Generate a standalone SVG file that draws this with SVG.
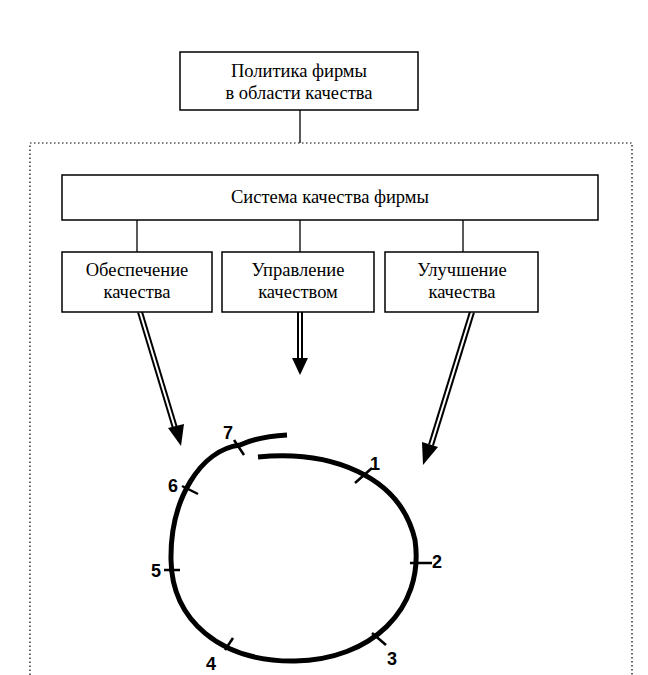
<svg xmlns="http://www.w3.org/2000/svg" width="648" height="675" viewBox="0 0 648 675">
<style>
.b{fill:#fff;stroke:#000;stroke-width:1.5}
.t{font-family:"Liberation Serif",serif;font-size:18.5px;text-anchor:middle}
.n{font-family:"Liberation Sans",sans-serif;font-size:18px;font-weight:bold}
.c{stroke:#000;stroke-width:1.3;fill:none}
.ao{stroke:#000;stroke-width:6;fill:none}
.ai{stroke:#fff;stroke-width:2;fill:none}
</style>
<rect width="648" height="675" fill="#fff"/>
<rect x="30" y="143" width="602" height="540" fill="none" stroke="#000" stroke-width="1.2" stroke-dasharray="1.5,2.5"/>
<g id="connectors">
<line class="c" x1="300" y1="110" x2="300" y2="143"/>
<line class="c" x1="137" y1="220" x2="137" y2="252"/>
<line class="c" x1="300" y1="220" x2="300" y2="252"/>
<line class="c" x1="463" y1="220" x2="463" y2="252"/>
<line class="ao" x1="140" y1="312" x2="175" y2="428"/><line class="ai" x1="140" y1="312" x2="175" y2="428"/>
<polygon points="168,428 184,424 181,446"/>
<line class="ao" x1="300" y1="312" x2="300" y2="360"/><line class="ai" x1="300" y1="312" x2="300" y2="360"/>
<polygon points="292,358 308,358 300,375"/>
<line class="ao" x1="472" y1="312" x2="431" y2="445"/><line class="ai" x1="472" y1="312" x2="431" y2="445"/>
<polygon points="422,442 438,447 423,465"/>
</g>
<g id="policy"><rect class="b" x="180" y="52" width="238" height="58"/><text class="t" x="299" y="77">Политика фирмы</text><text class="t" x="299" y="99">в области качества</text></g>
<g id="system"><rect class="b" x="62" y="175" width="536" height="45"/><text class="t" x="330" y="203">Система качества фирмы</text></g>
<g id="assurance"><rect class="b" x="62" y="252" width="150" height="60"/><text class="t" x="137" y="276">Обеспечение</text><text class="t" x="137" y="298">качества</text></g>
<g id="control"><rect class="b" x="222" y="252" width="152" height="60"/><text class="t" x="298" y="276">Управление</text><text class="t" x="298" y="298">качеством</text></g>
<g id="improvement"><rect class="b" x="385" y="252" width="153" height="60"/><text class="t" x="462" y="276">Улучшение</text><text class="t" x="462" y="298">качества</text></g>
<g id="cycle">
<path d="M258,457 C330,450 400,475 415,540 C425,610 370,660 295,661 C220,662 172,620 171,560 C170,500 200,450 240,445 C255,438 270,436 287,435" fill="none" stroke="#000" stroke-width="5"/>
<g stroke="#000" stroke-width="2.5">
<line x1="234" y1="440" x2="244" y2="455"/>
<line x1="182" y1="486" x2="198" y2="494"/>
<line x1="164" y1="570" x2="180" y2="570"/>
<line x1="225" y1="650" x2="233" y2="638"/>
<line x1="355" y1="483" x2="372" y2="468"/>
<line x1="410" y1="563" x2="432" y2="563"/>
<line x1="372" y1="633" x2="386" y2="645"/>
</g>
<text class="n" x="223" y="439">7</text>
<text class="n" x="168" y="492">6</text>
<text class="n" x="151" y="577">5</text>
<text class="n" x="206" y="670">4</text>
<text class="n" x="387" y="665">3</text>
<text class="n" x="432" y="568">2</text>
<text class="n" x="370" y="470">1</text>
</g>
</svg>
